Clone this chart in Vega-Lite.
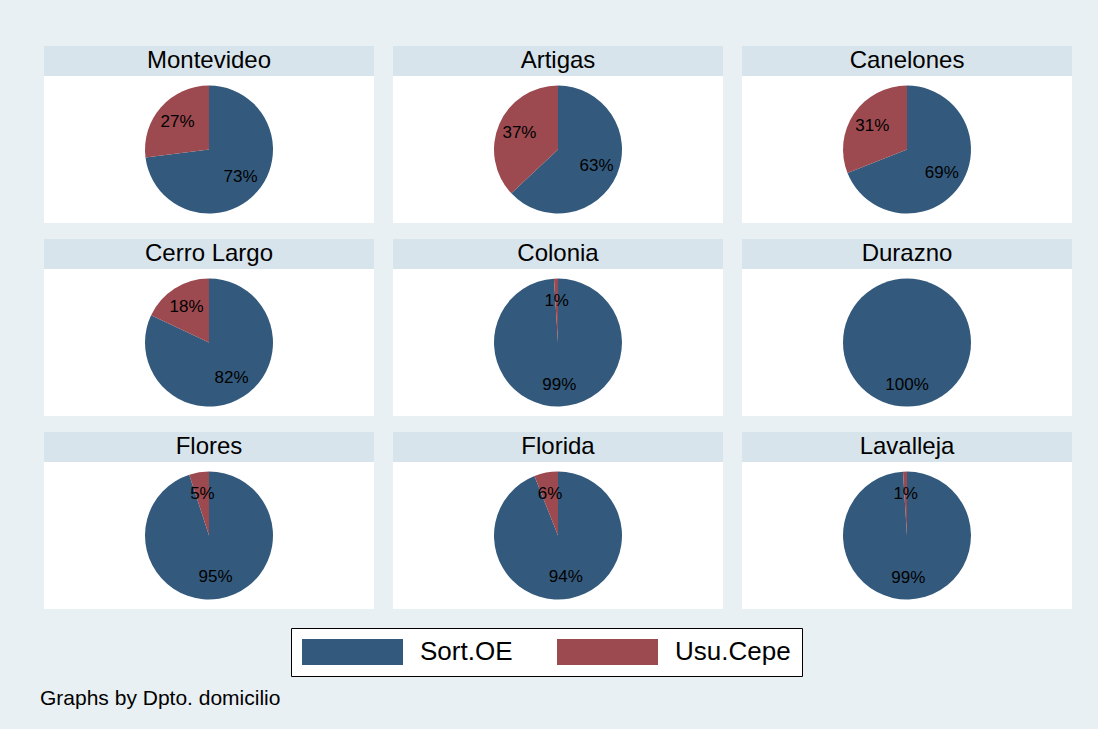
{
  "$schema": "https://vega.github.io/schema/vega-lite/v6.json",
  "background": "#e8f0f3",
  "padding": {"left": 40, "top": 45, "right": 26, "bottom": 21},
  "config": {
    "font": "Liberation Sans",
    "view": {"stroke": null, "fill": "white"}
  },
  "title": {
    "text": "Graphs by Dpto. domicilio",
    "orient": "bottom",
    "anchor": "start",
    "dx": -4,
    "offset": 11,
    "fontSize": 21,
    "fontWeight": "normal",
    "color": "black",
    "font": "Liberation Sans"
  },
  "data": {
    "values": [
      {"dpto": "Montevideo", "grupo": "Sort.OE", "share": 0.73},
      {"dpto": "Montevideo", "grupo": "Usu.Cepe", "share": 0.27},
      {"dpto": "Artigas", "grupo": "Sort.OE", "share": 0.63},
      {"dpto": "Artigas", "grupo": "Usu.Cepe", "share": 0.37},
      {"dpto": "Canelones", "grupo": "Sort.OE", "share": 0.69},
      {"dpto": "Canelones", "grupo": "Usu.Cepe", "share": 0.31},
      {"dpto": "Cerro Largo", "grupo": "Sort.OE", "share": 0.82},
      {"dpto": "Cerro Largo", "grupo": "Usu.Cepe", "share": 0.18},
      {"dpto": "Colonia", "grupo": "Sort.OE", "share": 0.99},
      {"dpto": "Colonia", "grupo": "Usu.Cepe", "share": 0.01},
      {"dpto": "Durazno", "grupo": "Sort.OE", "share": 1.0},
      {"dpto": "Flores", "grupo": "Sort.OE", "share": 0.95},
      {"dpto": "Flores", "grupo": "Usu.Cepe", "share": 0.05},
      {"dpto": "Florida", "grupo": "Sort.OE", "share": 0.94},
      {"dpto": "Florida", "grupo": "Usu.Cepe", "share": 0.06},
      {"dpto": "Lavalleja", "grupo": "Sort.OE", "share": 0.99},
      {"dpto": "Lavalleja", "grupo": "Usu.Cepe", "share": 0.01}
    ]
  },
  "facet": {
    "field": "dpto",
    "type": "nominal",
    "sort": ["Montevideo", "Artigas", "Canelones", "Cerro Largo", "Colonia", "Durazno", "Flores", "Florida", "Lavalleja"],
    "header": {"title": null, "labelExpr": "''", "labelFontSize": 1, "labelPadding": 0, "labelColor": "transparent"}
  },
  "columns": 3,
  "spacing": {"row": 15, "column": 19},
  "spec": {
    "width": 330,
    "height": 177,
    "layer": [
      {
        "transform": [{"filter": "datum.grupo === 'Sort.OE'"}],
        "mark": {"type": "rect", "color": "#d8e4eb"},
        "encoding": {
          "x": {"datum": 0, "type": "quantitative", "scale": {"domain": [0, 1], "nice": false, "zero": false}, "axis": null},
          "x2": {"datum": 1},
          "y": {"datum": 0.8305, "type": "quantitative", "scale": {"domain": [0, 1], "nice": false, "zero": false}, "axis": null},
          "y2": {"datum": 1}
        }
      },
      {
        "transform": [{"filter": "datum.grupo === 'Sort.OE'"}],
        "mark": {"type": "text", "fontSize": 24, "color": "black", "baseline": "middle", "align": "center", "font": "Liberation Sans"},
        "encoding": {
          "x": {"datum": 0.5, "type": "quantitative"},
          "y": {"datum": 0.917, "type": "quantitative"},
          "text": {"field": "dpto", "type": "nominal"}
        }
      },
      {
        "mark": {"type": "arc", "outerRadius": 64},
        "encoding": {
          "x": {"datum": 0.5, "type": "quantitative"},
          "y": {"datum": 0.415, "type": "quantitative"},
          "theta": {"field": "share", "type": "quantitative", "stack": "normalize"},
          "order": {"field": "grupo", "type": "nominal", "sort": "ascending"},
          "color": {
            "field": "grupo",
            "type": "nominal",
            "scale": {"domain": ["Sort.OE", "Usu.Cepe"], "range": ["#335a7d", "#9c4a50"]},
            "legend": {
              "title": null,
              "orient": "none",
              "legendX": 247,
              "legendY": 582,
              "direction": "horizontal",
              "columns": 2,
              "symbolType": "M-1,-1h7.77v2h-7.77z",
              "symbolSize": 676,
              "symbolStrokeWidth": 0,
              "symbolOpacity": 1,
              "labelFontSize": 26,
              "labelFont": "Liberation Sans",
              "labelColor": "black",
              "labelOffset": 92,
              "columnPadding": 44,
              "padding": 11,
              "strokeColor": "black",
              "fillColor": "white",
              "labelLimit": 300
            }
          }
        }
      },
      {
        "mark": {"type": "text", "radius": 42, "fontSize": 17, "color": "black", "font": "Liberation Sans"},
        "encoding": {
          "x": {"datum": 0.5, "type": "quantitative"},
          "y": {"datum": 0.415, "type": "quantitative"},
          "theta": {"field": "share", "type": "quantitative", "stack": "normalize"},
          "order": {"field": "grupo", "type": "nominal", "sort": "ascending"},
          "detail": {"field": "grupo", "type": "nominal"},
          "text": {"field": "share", "type": "quantitative", "format": ".0%"}
        }
      }
    ]
  }
}
